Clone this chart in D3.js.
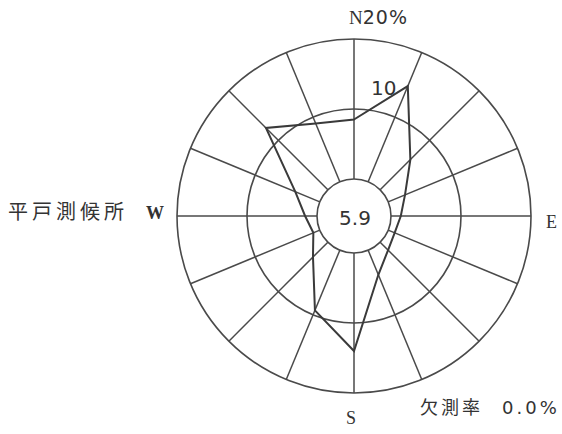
<!DOCTYPE html>
<html>
<head>
<meta charset="utf-8">
<script src="https://cdn.jsdelivr.net/npm/d3@7"></script>
<style>
    body { margin: 0; background: #fff; }
    svg { display: block; }
</style>
</head>
<body>
<div id="chart"></div>
<script>

// 16 wind directions, clockwise from N
var aDirections = ["N", "NNE", "NE", "ENE", "E", "ESE", "SE", "SSE",
                   "S", "SSW", "SW", "WSW", "W", "WNW", "NW", "NNW"];

// frequency % per direction
var aFrequency = [8.5, 14.8, 6.1, 2.6, 1.4, 1.0, 1.6, 3.8,
                  14.0, 9.3, 3.0, 1.0, 1.7, 3.8, 12.5, 9.0];

var calm = "5.9";          // calm %, written in the centre circle
var aRings = [0, 10, 20];  // % rings
var station = "平戸測候所";
var aMissing = ["欠測率", "0.0%"];

var w = 562;
var h = 434;
var cx = 354;
var cy = 216;
var lineColor = "#4a4a4a";

var svg = d3.select("#chart")
    .append("svg")
    .attr("width", w)
    .attr("height", h);

// 0% sits on the calm circle, 20% on the outer ring
var r = d3.scaleLinear()
    .domain([0, 20])
    .range([37, 177]);

var angle = d3.scaleLinear()
    .domain([0, aDirections.length])
    .range([0, 2 * Math.PI]);

var g = svg.append("g")
    .attr("transform", "translate(" + cx + "," + cy + ")");

g.selectAll("circle.ring")
    .data(aRings)
    .enter()
    .append("circle")
    .attr("class", "ring")
    .attr("r", function(d){ return r(d); })
    .attr("fill", "none")
    .attr("stroke", lineColor)
    .attr("stroke-width", 1.6);

g.selectAll("line.spoke")
    .data(aDirections)
    .enter()
    .append("line")
    .attr("class", "spoke")
    .attr("x1", function(d, i){ return r(0) * Math.sin(angle(i)); })
    .attr("y1", function(d, i){ return -r(0) * Math.cos(angle(i)); })
    .attr("x2", function(d, i){ return r(20) * Math.sin(angle(i)); })
    .attr("y2", function(d, i){ return -r(20) * Math.cos(angle(i)); })
    .attr("stroke", lineColor)
    .attr("stroke-width", 1.5);

var radial = d3.lineRadial()
    .angle(function(d, i){ return angle(i); })
    .radius(function(d){ return r(d); })
    .curve(d3.curveLinearClosed);

g.append("path")
    .datum(aFrequency)
    .attr("d", radial)
    .attr("fill", "none")
    .attr("stroke", "#3a3a3a")
    .attr("stroke-width", 2)
    .attr("stroke-linejoin", "miter");

// labels
var serif = "'Liberation Serif', 'DejaVu Serif', serif";
var sans = "'DejaVu Sans', 'Liberation Sans', sans-serif";
var jp = "'Noto Sans CJK JP', sans-serif";

g.append("text")
    .text(calm)
    .attr("x", 1)
    .attr("y", 9)
    .attr("text-anchor", "middle")
    .attr("font-family", sans)
    .attr("font-size", "20px")
    .attr("fill", "#333");

g.append("text")
    .text(aRings[1])
    .attr("x", 17)
    .attr("y", -121)
    .attr("font-family", sans)
    .attr("font-size", "20px")
    .attr("fill", "#333");

var nLabel = g.append("text")
    .attr("x", -5)
    .attr("y", -192)
    .attr("fill", "#333")
    .attr("font-size", "19px");
nLabel.append("tspan").text("N").attr("font-family", serif);
nLabel.append("tspan").text(aRings[2] + "%").attr("font-family", sans)
    .attr("letter-spacing", "1px");

g.append("text")
    .text("E")
    .attr("x", 192)
    .attr("y", 12)
    .attr("font-family", serif)
    .attr("font-size", "18px")
    .attr("fill", "#333");

g.append("text")
    .text("S")
    .attr("x", -8)
    .attr("y", 208)
    .attr("font-family", serif)
    .attr("font-size", "18px")
    .attr("fill", "#333");

g.append("text")
    .text("W")
    .attr("x", -208)
    .attr("y", 3)
    .attr("font-family", serif)
    .attr("font-weight", "bold")
    .attr("font-size", "18px")
    .attr("fill", "#333");

svg.append("text")
    .text(station)
    .attr("x", 8)
    .attr("y", 219)
    .attr("font-family", jp)
    .attr("font-size", "20px")
    .attr("letter-spacing", "4px")
    .attr("fill", "#333");

var mLabel = svg.append("text")
    .attr("x", 420)
    .attr("y", 414)
    .attr("font-size", "18px")
    .attr("fill", "#333");
mLabel.append("tspan").text(aMissing[0])
    .attr("font-family", jp)
    .attr("letter-spacing", "3px");
mLabel.append("tspan").text(aMissing[1])
    .attr("x", 502)
    .attr("font-family", sans)
    .attr("letter-spacing", "3px");

</script>
</body>
</html>
